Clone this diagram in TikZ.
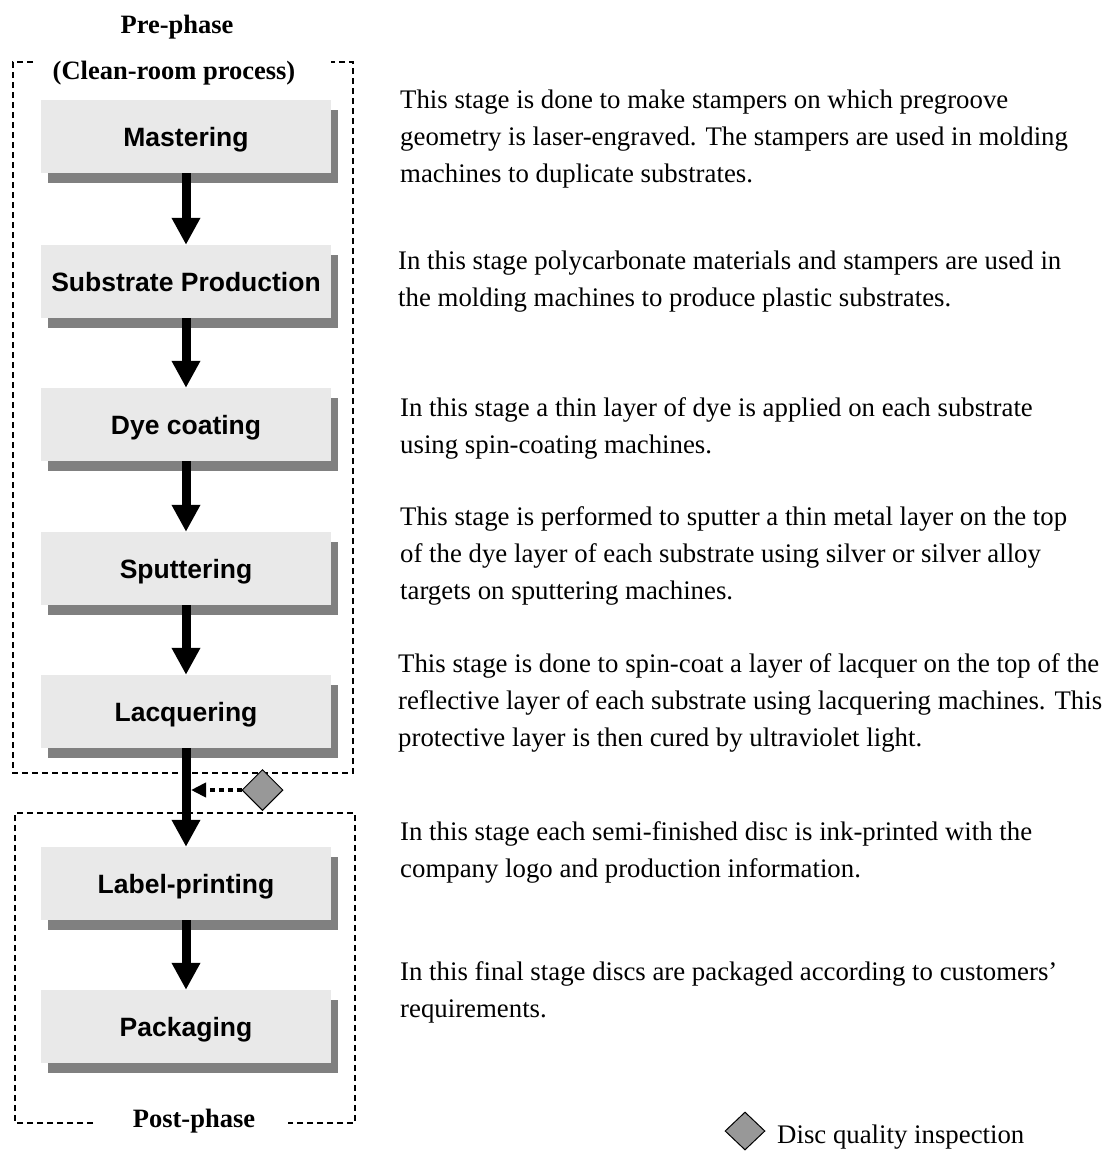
\documentclass[tikz,border=0pt]{standalone}
\usepackage{fontspec}
\setmainfont{Liberation Serif}
\newfontfamily\stagefont{Liberation Sans}
\usetikzlibrary{arrows.meta,shapes.geometric,shadows}

\definecolor{boxfill}{RGB}{233,233,233}
\definecolor{boxshade}{RGB}{128,128,128}
\definecolor{gem}{RGB}{152,152,152}

\begin{document}
\begin{tikzpicture}[x=1pt,y=-1pt,
  stagebox/.style={fill=boxfill, minimum width=290pt, minimum height=73pt,
    inner sep=0pt, text height=19pt, text depth=0pt,
    font=\stagefont\bfseries\fontsize{26.5}{30}\selectfont,
    drop shadow={shadow xshift=7pt, shadow yshift=-10pt, fill=boxshade, opacity=1}},
  flow/.style={line width=9pt, -{Triangle[width=27pt,length=27pt]}},
  check/.style={line width=4.5pt, dash pattern=on 5pt off 4pt,
    -{Triangle[width=14pt,length=15pt]}},
  frame/.style={line width=1.3pt, dash pattern=on 6pt off 4pt},
  phaselabel/.style={anchor=base, inner sep=0pt,
    font=\bfseries\fontsize{26.5}{30}\selectfont},
  desc/.style={anchor=base west, inner sep=0pt, font=\fontsize{26.8}{32}\selectfont},
  gemstone/.style={diamond, draw=black, line width=1pt, fill=gem, inner sep=0pt,
    minimum width=41pt, minimum height=41pt}]

\useasboundingbox (0,0) rectangle (1111,1151);

% dashed frames of the two phases
\draw[frame] (33,62) -- (13,62) -- (13,773) -- (353,773) -- (353,62) -- (331,62);
\draw[frame] (93,1123) -- (15,1123) -- (15,813) -- (355,813) -- (355,1123) -- (288,1123);

\node[phaselabel] (pre)   at (177,33)   {Pre-phase};
\node[phaselabel] (clean) at (174,79)   {(Clean-room process)};
\node[phaselabel] (post)  at (194,1127) {Post-phase};

% production stages
\node[stagebox] (mas) at (186,136.5)  {Mastering};
\node[stagebox] (sub) at (186,281.5)  {Substrate Production};
\node[stagebox] (dye) at (186,424.5)  {Dye coating};
\node[stagebox] (spu) at (186,568.5)  {Sputtering};
\node[stagebox] (lac) at (186,711.5)  {Lacquering};
\node[stagebox] (lab) at (186,883.5)  {Label-printing};
\node[stagebox] (pac) at (186,1026.5) {Packaging};

\draw[flow] (mas.south) -- (sub.north);
\draw[flow] (sub.south) -- (dye.north);
\draw[flow] (dye.south) -- (spu.north);
\draw[flow] (spu.south) -- (lac.north);
\draw[flow] (lac.south) -- (lab.north);
\draw[flow] (lab.south) -- (pac.north);

% inspection between the phases
\node[gemstone] (insp) at (262.5,790) {};
\coordinate (shaft) at (191,790);
\draw[check] (insp.west) -- (shaft);

% stage descriptions
\node[desc] (d1a) at (400,108) {This stage is done to make stampers on which pregroove};
\node[desc] (d1b) at (400,145) {geometry is laser-engraved. The stampers are used in molding};
\node[desc] (d1c) at (400,182) {machines to duplicate substrates.};

\node[desc] (d2a) at (398,269) {In this stage polycarbonate materials and stampers are used in};
\node[desc] (d2b) at (398,306) {the molding machines to produce plastic substrates.};

\node[desc] (d3a) at (400,416) {In this stage a thin layer of dye is applied on each substrate};
\node[desc] (d3b) at (400,453) {using spin-coating machines.};

\node[desc] (d4a) at (400,525) {This stage is performed to sputter a thin metal layer on the top};
\node[desc] (d4b) at (400,562) {of the dye layer of each substrate using silver or silver alloy};
\node[desc] (d4c) at (400,599) {targets on sputtering machines.};

\node[desc] (d5a) at (398,672) {This stage is done to spin-coat a layer of lacquer on the top of the};
\node[desc] (d5b) at (398,709) {reflective layer of each substrate using lacquering machines. This};
\node[desc] (d5c) at (398,746) {protective layer is then cured by ultraviolet light.};

\node[desc] (d6a) at (400,840) {In this stage each semi-finished disc is ink-printed with the};
\node[desc] (d6b) at (400,877) {company logo and production information.};

\node[desc] (d7a) at (400,980) {In this final stage discs are packaged according to customers’};
\node[desc] (d7b) at (400,1017) {requirements.};

% legend
\node[gemstone, minimum width=40pt, minimum height=38pt] (leg) at (745,1131) {};
\node[desc] (legtext) at (777,1143) {Disc quality inspection};

\end{tikzpicture}
\end{document}
